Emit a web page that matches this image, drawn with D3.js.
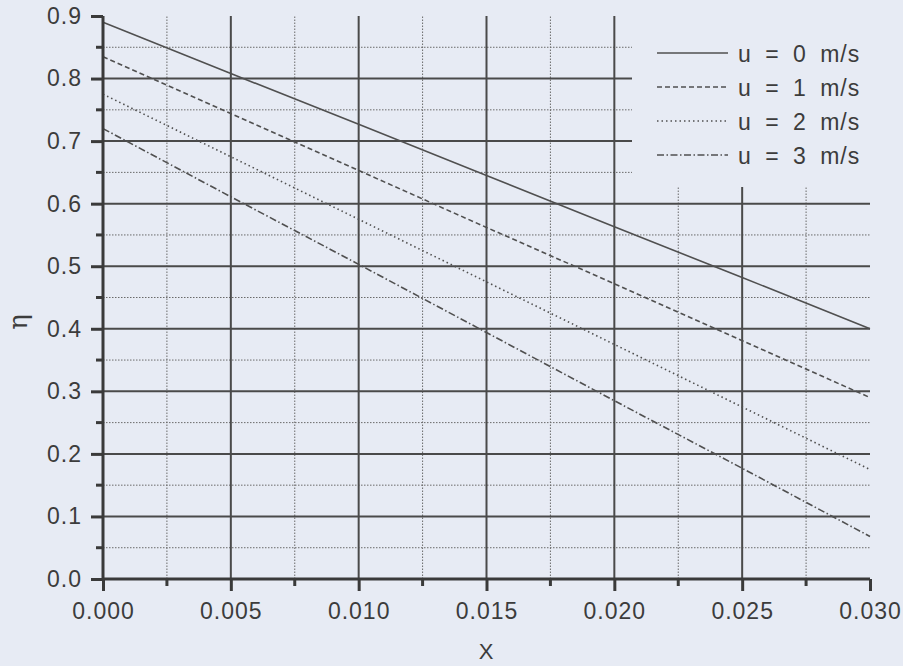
<!DOCTYPE html>
<html><head><meta charset="utf-8">
<script src="https://cdn.jsdelivr.net/npm/d3@7"></script>
<style>
html,body{margin:0;padding:0;background:#e7ebf4;}
svg{display:block;font-family:"Liberation Sans",Arial,sans-serif;}
</style></head>
<body>
<script>
// Data
const xValues = [0.000, 0.005, 0.010, 0.015, 0.020, 0.025, 0.030];
const etaU0 = [0.890, 0.808, 0.727, 0.645, 0.563, 0.482, 0.400];
const etaU1 = [0.835, 0.744, 0.653, 0.562, 0.472, 0.381, 0.290];
const etaU2 = [0.775, 0.675, 0.575, 0.475, 0.375, 0.275, 0.175];
const etaU3 = [0.720, 0.611, 0.503, 0.394, 0.285, 0.177, 0.068];
const seriesLabels = ["u = 0 m/s", "u = 1 m/s", "u = 2 m/s", "u = 3 m/s"];
const xTickLabels = ["0.000", "0.005", "0.010", "0.015", "0.020", "0.025", "0.030"];
const yTickLabels = ["0.0","0.1","0.2","0.3","0.4","0.5","0.6","0.7","0.8","0.9"];
const xAxisTitle = "X";
const yAxisTitle = "η";

const W = 903, H = 666;
const svg = d3.select("body").append("svg").attr("width", W).attr("height", H);
svg.append("rect").attr("width", W).attr("height", H).attr("fill", "#e7ebf4");

const x = d3.scaleLinear().domain([0, 0.030]).range([103, 870]);
const y = d3.scaleLinear().domain([0, 0.9]).range([579, 16]);

const majorX = d3.range(0, 7).map(i => i * 0.005);
const minorX = d3.range(0, 6).map(i => i * 0.005 + 0.0025);
const majorY = d3.range(0, 10).map(i => i * 0.1);
const minorY = d3.range(0, 9).map(i => i * 0.1 + 0.05);

const grid = svg.append("g");
grid.selectAll(".mx").data(minorX).join("line")
  .attr("x1", d => x(d)).attr("x2", d => x(d)).attr("y1", y(0)).attr("y2", y(0.9))
  .attr("stroke", "#6a6a6a").attr("stroke-width", 1).attr("stroke-dasharray", "1.5,1.5");
grid.selectAll(".my").data(minorY).join("line")
  .attr("x1", x(0)).attr("x2", x(0.030)).attr("y1", d => y(d)).attr("y2", d => y(d))
  .attr("stroke", "#6a6a6a").attr("stroke-width", 1).attr("stroke-dasharray", "1.5,1.5");
grid.selectAll(".Mx").data(majorX.filter(d => d > 0 && d < 0.030)).join("line")
  .attr("x1", d => x(d)).attr("x2", d => x(d)).attr("y1", y(0)).attr("y2", y(0.9))
  .attr("stroke", "#4a4a4a").attr("stroke-width", 2);
grid.selectAll(".My").data(majorY.filter(d => d > 0 && d < 0.9)).join("line")
  .attr("x1", x(0)).attr("x2", x(0.030)).attr("y1", d => y(d)).attr("y2", d => y(d))
  .attr("stroke", "#4a4a4a").attr("stroke-width", 2);

// legend background (covers grid)
svg.append("rect").attr("x", 632).attr("y", 10).attr("width", 250).attr("height", 177)
  .attr("fill", "#e7ebf4");

// series
const styles = ["none", "5,3", "1.5,3", "7,2.5,1.5,2.5"];
const allSeries = [etaU0, etaU1, etaU2, etaU3];
const line = d3.line().x((d, i) => x(xValues[i])).y(d => y(d));
allSeries.forEach((s, k) => {
  svg.append("path").datum(s).attr("d", line)
    .attr("fill", "none").attr("stroke", "#505050").attr("stroke-width", 1.6)
    .attr("stroke-dasharray", styles[k]);
});

// axes
const xAxis = d3.axisBottom(x).tickValues(majorX).tickSize(12).tickFormat((d, i) => xTickLabels[i]);
const gx = svg.append("g").attr("transform", `translate(0,${y(0)})`).call(xAxis);
const yAxis = d3.axisLeft(y).tickValues(majorY).tickSize(12).tickFormat((d, i) => yTickLabels[i]);
const gy = svg.append("g").attr("transform", `translate(${x(0)},0)`).call(yAxis);
[gx, gy].forEach(g => {
  g.select(".domain").attr("stroke", "#3a3a3a").attr("stroke-width", 3);
  g.selectAll(".tick line").attr("stroke", "#3a3a3a").attr("stroke-width", 3);
  g.selectAll(".tick text").attr("fill", "#3c3c3c").style("font-size", "23px")
   .style("font-family", "'Liberation Sans',Arial,sans-serif").style("letter-spacing", "1px");
});
gx.select(".domain").attr("d", `M${x(0)},0H${x(0.030)}`);
gy.select(".domain").attr("d", `M0,${y(0)}V${y(0.9)}`);
gx.selectAll(".tick text").attr("dy", "0").attr("y", 40);
gy.selectAll(".tick text").attr("x", -21);
gx.selectAll(".minor").data(minorX).join("line").attr("class", "minor")
  .attr("x1", d => x(d)).attr("x2", d => x(d)).attr("y1", 0).attr("y2", 7)
  .attr("stroke", "#3a3a3a").attr("stroke-width", 3);
gy.selectAll(".minor").data(minorY).join("line").attr("class", "minor")
  .attr("y1", d => y(d)).attr("y2", d => y(d)).attr("x1", 0).attr("x2", -7)
  .attr("stroke", "#3a3a3a").attr("stroke-width", 3);

// axis titles
svg.append("text").attr("x", 486).attr("y", 659).attr("text-anchor", "middle")
  .attr("fill", "#3c3c3c").style("font-size", "22px").text(xAxisTitle);
svg.append("text").attr("transform", "translate(27,322) rotate(-90)").attr("text-anchor", "middle")
  .attr("fill", "#3c3c3c").style("font-size", "26px").style("font-family", "'DejaVu Serif',serif").text(yAxisTitle);

// legend
const legY = [53, 87, 121, 155];
seriesLabels.forEach((lab, k) => {
  svg.append("line").attr("x1", 657).attr("x2", 728).attr("y1", legY[k]).attr("y2", legY[k])
    .attr("stroke", "#505050").attr("stroke-width", 1.6).attr("stroke-dasharray", styles[k]);
  svg.append("text").attr("x", 738).attr("y", legY[k] + 8.5).attr("fill", "#3c3c3c")
    .style("font-size", "23px").style("word-spacing", "6px").style("letter-spacing", "1px").text(lab);
});
</script>
</body></html>
